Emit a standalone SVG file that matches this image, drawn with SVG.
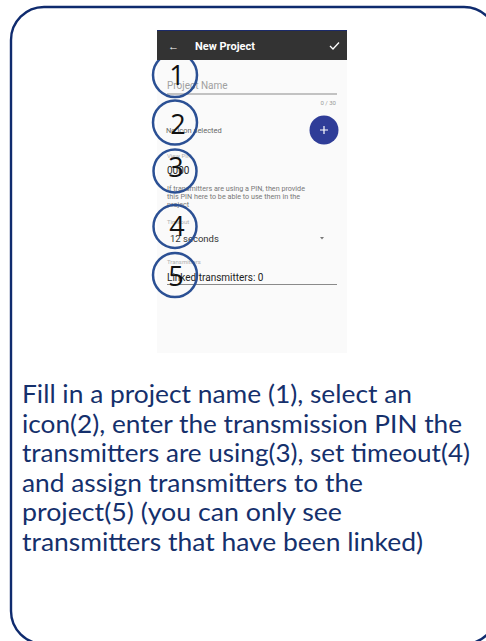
<svg xmlns="http://www.w3.org/2000/svg" width="486" height="641" viewBox="0 0 486 641">
<style>
.frame{fill:none;stroke:#0f2b6e;stroke-width:2.4}
.cap{font-family:Lato,"Open Sans",sans-serif;font-size:25.5px;fill:#15306c}
.ui{font-family:Roboto,"Liberation Sans",sans-serif}
.mark{fill:none;stroke:#2b5094;stroke-width:2.5}
.num{font-family:"Open Sans","Noto Sans",sans-serif;font-size:27px;fill:#111111;text-anchor:middle}
.lbl{font-size:6px;fill:#b0b0b0}
.help{font-size:7.2px;fill:#777777}
.uline{stroke:#8a8a8a;stroke-width:1}
</style>
<rect x="0" y="0" width="486" height="641" fill="#ffffff"/>
<path class="frame" d="M487 634.7 A33 33 0 0 1 464 644 H44 A33 33 0 0 1 11 611 V40 A33 33 0 0 1 44 7 H464 A33 33 0 0 1 487 16.3"/>
<g id="phone">
<rect x="157" y="30" width="190" height="323" fill="#fafafa"/>
<g class="ui">
<text x="167" y="89" font-size="10" fill="#a0a0a0">Project Name</text>
<line class="uline" x1="167" y1="94" x2="337" y2="94"/>
<text x="336" y="105" font-size="6" fill="#999999" text-anchor="end">0 / 30</text>
<text x="166" y="133" font-size="7.5" fill="#666666">No icon selected</text>
<circle cx="324" cy="130" r="14.5" fill="#2f3d98"/>
<path d="M320 130 H328 M324 126 V134" stroke="#ffffff" stroke-width="1.2"/>
<text class="lbl" x="167" y="158">View PIN</text>
<text x="167" y="174" font-size="10" fill="#222222">0000</text>
<text class="help" x="167" y="191">If transmitters are using a PIN, then provide</text>
<text class="help" x="167" y="199">this PIN here to be able to use them in the</text>
<text class="help" x="167" y="207">project</text>
<text class="lbl" x="167" y="224">Timeout</text>
<text x="170" y="242" font-size="9.5" fill="#333333">12 seconds</text>
<path d="M320 237 L324 237 L322 239.5 Z" fill="#777777"/>
<text class="lbl" x="167" y="264">Transmitters</text>
<text x="167" y="281" font-size="10" fill="#222222">Linked transmitters: 0</text>
<line class="uline" x1="167" y1="284.5" x2="337" y2="284.5"/>
</g>
</g>
<g id="markers">
<g id="m1"><circle class="mark" cx="175" cy="75" r="22"/><text class="num" x="177" y="85">1</text></g>
<g id="m2"><circle class="mark" cx="175" cy="122.5" r="22"/><text class="num" x="178" y="134">2</text></g>
<g id="m3"><circle class="mark" cx="175" cy="171" r="21.5"/><text class="num" x="176" y="177">3</text></g>
<g id="m4"><circle class="mark" cx="175" cy="226.5" r="21.5"/><text class="num" x="177" y="236">4</text></g>
<g id="m5"><circle class="mark" cx="175" cy="275" r="22"/><text class="num" x="176" y="286">5</text></g>
</g>
<g id="appbar">
<rect x="157" y="30" width="190" height="30" fill="#333333"/>
<line x1="157" y1="30.5" x2="347" y2="30.5" stroke="#1b2a6a" stroke-width="1"/>
<text x="168" y="50" class="ui" font-size="11" fill="#ffffff">←</text>
<text x="195" y="50" class="ui" font-size="11" font-weight="bold" fill="#ffffff">New Project</text>
<path d="M330 46 L333 49 L339 42.5" fill="none" stroke="#ffffff" stroke-width="1.3"/>
</g>
<g id="caption">
<text class="cap" x="22" y="403" textLength="390" lengthAdjust="spacingAndGlyphs">Fill in a project name (1), select an</text>
<text class="cap" x="22" y="432.5" textLength="440" lengthAdjust="spacingAndGlyphs">icon(2), enter the transmission PIN the</text>
<text class="cap" x="22" y="462" textLength="448" lengthAdjust="spacingAndGlyphs">transmitters are using(3), set timeout(4)</text>
<text class="cap" x="22" y="491.5" textLength="341" lengthAdjust="spacingAndGlyphs">and assign transmitters to the</text>
<text class="cap" x="22" y="521" textLength="320" lengthAdjust="spacingAndGlyphs">project(5) (you can only see</text>
<text class="cap" x="22" y="550.5" textLength="401" lengthAdjust="spacingAndGlyphs">transmitters that have been linked)</text>
</g>
</svg>
